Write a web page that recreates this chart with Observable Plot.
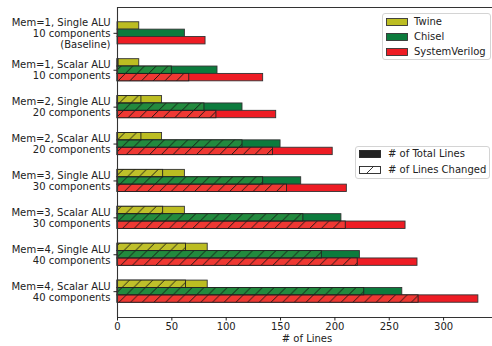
<!DOCTYPE html>
<html><head><meta charset="utf-8">
<script src="https://cdn.jsdelivr.net/npm/d3@7"></script>
<script src="https://cdn.jsdelivr.net/npm/@observablehq/plot@0.6"></script>
<style>
body{margin:0;background:#fff;font-family:"DejaVu Sans",sans-serif;}
#wrap{position:relative;width:492px;height:346px;overflow:hidden;}
.legend{position:absolute;background:rgba(255,255,255,0.85);border:1px solid #d4d4d4;border-radius:3px;font-size:10px;color:#222;box-sizing:border-box;}
.item{position:absolute;left:0;height:12px;line-height:12px;white-space:nowrap;}
.item svg{position:absolute;left:3px;top:2px;}
.item span{position:absolute;top:0;}
</style></head>
<body><div id="wrap"></div>
<script>
const groupLabels = [
  "Mem=1, Single ALU\n10 components\n(Baseline)",
  "Mem=1, Scalar ALU\n10 components",
  "Mem=2, Single ALU\n20 components",
  "Mem=2, Scalar ALU\n20 components",
  "Mem=3, Single ALU\n30 components",
  "Mem=3, Scalar ALU\n30 components",
  "Mem=4, Single ALU\n40 components",
  "Mem=4, Scalar ALU\n40 components"
];
const seriesNames = ["Twine", "Chisel", "SystemVerilog"];
const seriesColors = ["#bcbd22", "#0c7b3d", "#ee1c24"];
const changedColors = ["#bfc02a", "#228a3e", "#ef3833"];
const twineTotal    = [20, 20, 41, 41, 62, 62, 83, 83];
const twineChanged  = [0, 1, 22, 22, 42, 42, 63, 63];
const chiselTotal   = [62, 92, 115, 150, 169, 206, 223, 262];
const chiselChanged = [0, 50, 80, 115, 134, 171, 188, 227];
const svTotal       = [81, 134, 146, 198, 211, 265, 276, 332];
const svChanged     = [0, 66, 91, 143, 156, 210, 221, 277];
const xTicks = [0, 50, 100, 150, 200, 250, 300];
const xLabel = "# of Lines";
const legend2Labels = ["# of Total Lines", "# of Lines Changed"];

const totals = [twineTotal, chiselTotal, svTotal];
const changes = [twineChanged, chiselChanged, svChanged];
const barH = 0.2;
const rows = [];
groupLabels.forEach((lab, g) => {
  seriesNames.forEach((s, k) => {
    rows.push({g, k, series: s, pos: g + (k - 1) * barH, total: totals[k][g], changed: changes[k][g]});
  });
});
const changedRows = rows.filter(d => d.changed > 0);
const yDomain = [-0.7, groupLabels.length - 0.3];
const xDomain = [0, 345];

const chart = Plot.plot({
  width: 492, height: 346,
  marginLeft: 117, marginRight: 0, marginTop: 7, marginBottom: 29,
  style: {fontFamily: "DejaVu Sans, sans-serif", fontSize: "10px", color: "#222", background: "#fff"},
  x: {domain: xDomain},
  y: {domain: yDomain, reverse: true},
  marks: [
    Plot.rectX(rows, {x: "total", y1: d => d.pos - barH / 2, y2: d => d.pos + barH / 2,
      fill: d => seriesColors[d.k], stroke: "#333", strokeWidth: 0.9}),
    Plot.rectX(changedRows, {x: "changed", y1: d => d.pos - barH / 2, y2: d => d.pos + barH / 2,
      fill: d => changedColors[d.k], stroke: "none"}),
    Plot.rectX(changedRows, {x: "changed", y1: d => d.pos - barH / 2, y2: d => d.pos + barH / 2,
      fill: "url(#hatch)", stroke: "#222", strokeWidth: 0.9}),
    Plot.ruleX([xDomain[0]], {stroke: "#333", strokeWidth: 1.1}),
    Plot.ruleY([yDomain[0]], {stroke: "#333", strokeWidth: 1.1}),
    Plot.ruleY([yDomain[1]], {stroke: "#333", strokeWidth: 1.1}),
    Plot.axisX({ticks: xTicks, tickSize: 3.5, tickPadding: 2, label: null, fontSize: 10}),
    Plot.axisY({ticks: groupLabels.map((_, i) => i), tickFormat: i => groupLabels[i],
      tickSize: 3.5, tickPadding: 3.5, label: null, fontSize: 10, lineHeight: 1.1}),
    Plot.text([xLabel], {frameAnchor: "bottom", dy: 24, dx: 2, fontSize: 10, fill: "#222"})
  ]
});
const svgEl = chart.tagName.toLowerCase() === "svg" ? chart : chart.querySelector("svg");
const h = 11.7;
const defs = d3.create("svg:defs");
const pat = defs.append("pattern").attr("id", "hatch").attr("patternUnits", "userSpaceOnUse")
  .attr("width", h).attr("height", h);
pat.append("path").attr("d", `M${-h/2},${h/2} L${h/2},${-h/2} M0,${h} L${h},0 M${h/2},${h*1.5} L${h*1.5},${h/2}`)
  .attr("stroke", "#111").attr("stroke-width", 0.9).attr("fill", "none");
svgEl.insertBefore(defs.node(), svgEl.firstChild);
const wrap = document.getElementById("wrap");
wrap.appendChild(chart);

// legend 1
const l1 = document.createElement("div");
l1.className = "legend";
Object.assign(l1.style, {left: "382px", top: "13px", width: "109px", height: "47px"});
seriesNames.forEach((s, k) => {
  const it = document.createElement("div");
  it.className = "item";
  it.style.top = (2 + k * 15) + "px";
  it.innerHTML = `<svg width="22" height="8"><rect x="0.5" y="0.5" width="21" height="7" fill="${seriesColors[k]}" stroke="#333" stroke-width="0.9"/></svg><span style="left:31px">${s}</span>`;
  l1.appendChild(it);
});
wrap.appendChild(l1);

// legend 2
const l2 = document.createElement("div");
l2.className = "legend";
Object.assign(l2.style, {left: "355px", top: "146px", width: "135px", height: "33px"});
legend2Labels.forEach((s, k) => {
  const it = document.createElement("div");
  it.className = "item";
  it.style.top = (1 + k * 15.5) + "px";
  const sw = k === 0
    ? `<rect x="0.5" y="0.5" width="21" height="7" fill="#222" stroke="#222" stroke-width="0.9"/>`
    : `<rect x="0.5" y="0.5" width="21" height="7" fill="#fff" stroke="#222" stroke-width="0.9"/><line x1="7.5" y1="7.5" x2="14.5" y2="0.5" stroke="#222" stroke-width="0.9"/>`;
  it.innerHTML = `<svg width="22" height="8">${sw}</svg><span style="left:32px">${s}</span>`;
  l2.appendChild(it);
});
wrap.appendChild(l2);
</script>
</body></html>
